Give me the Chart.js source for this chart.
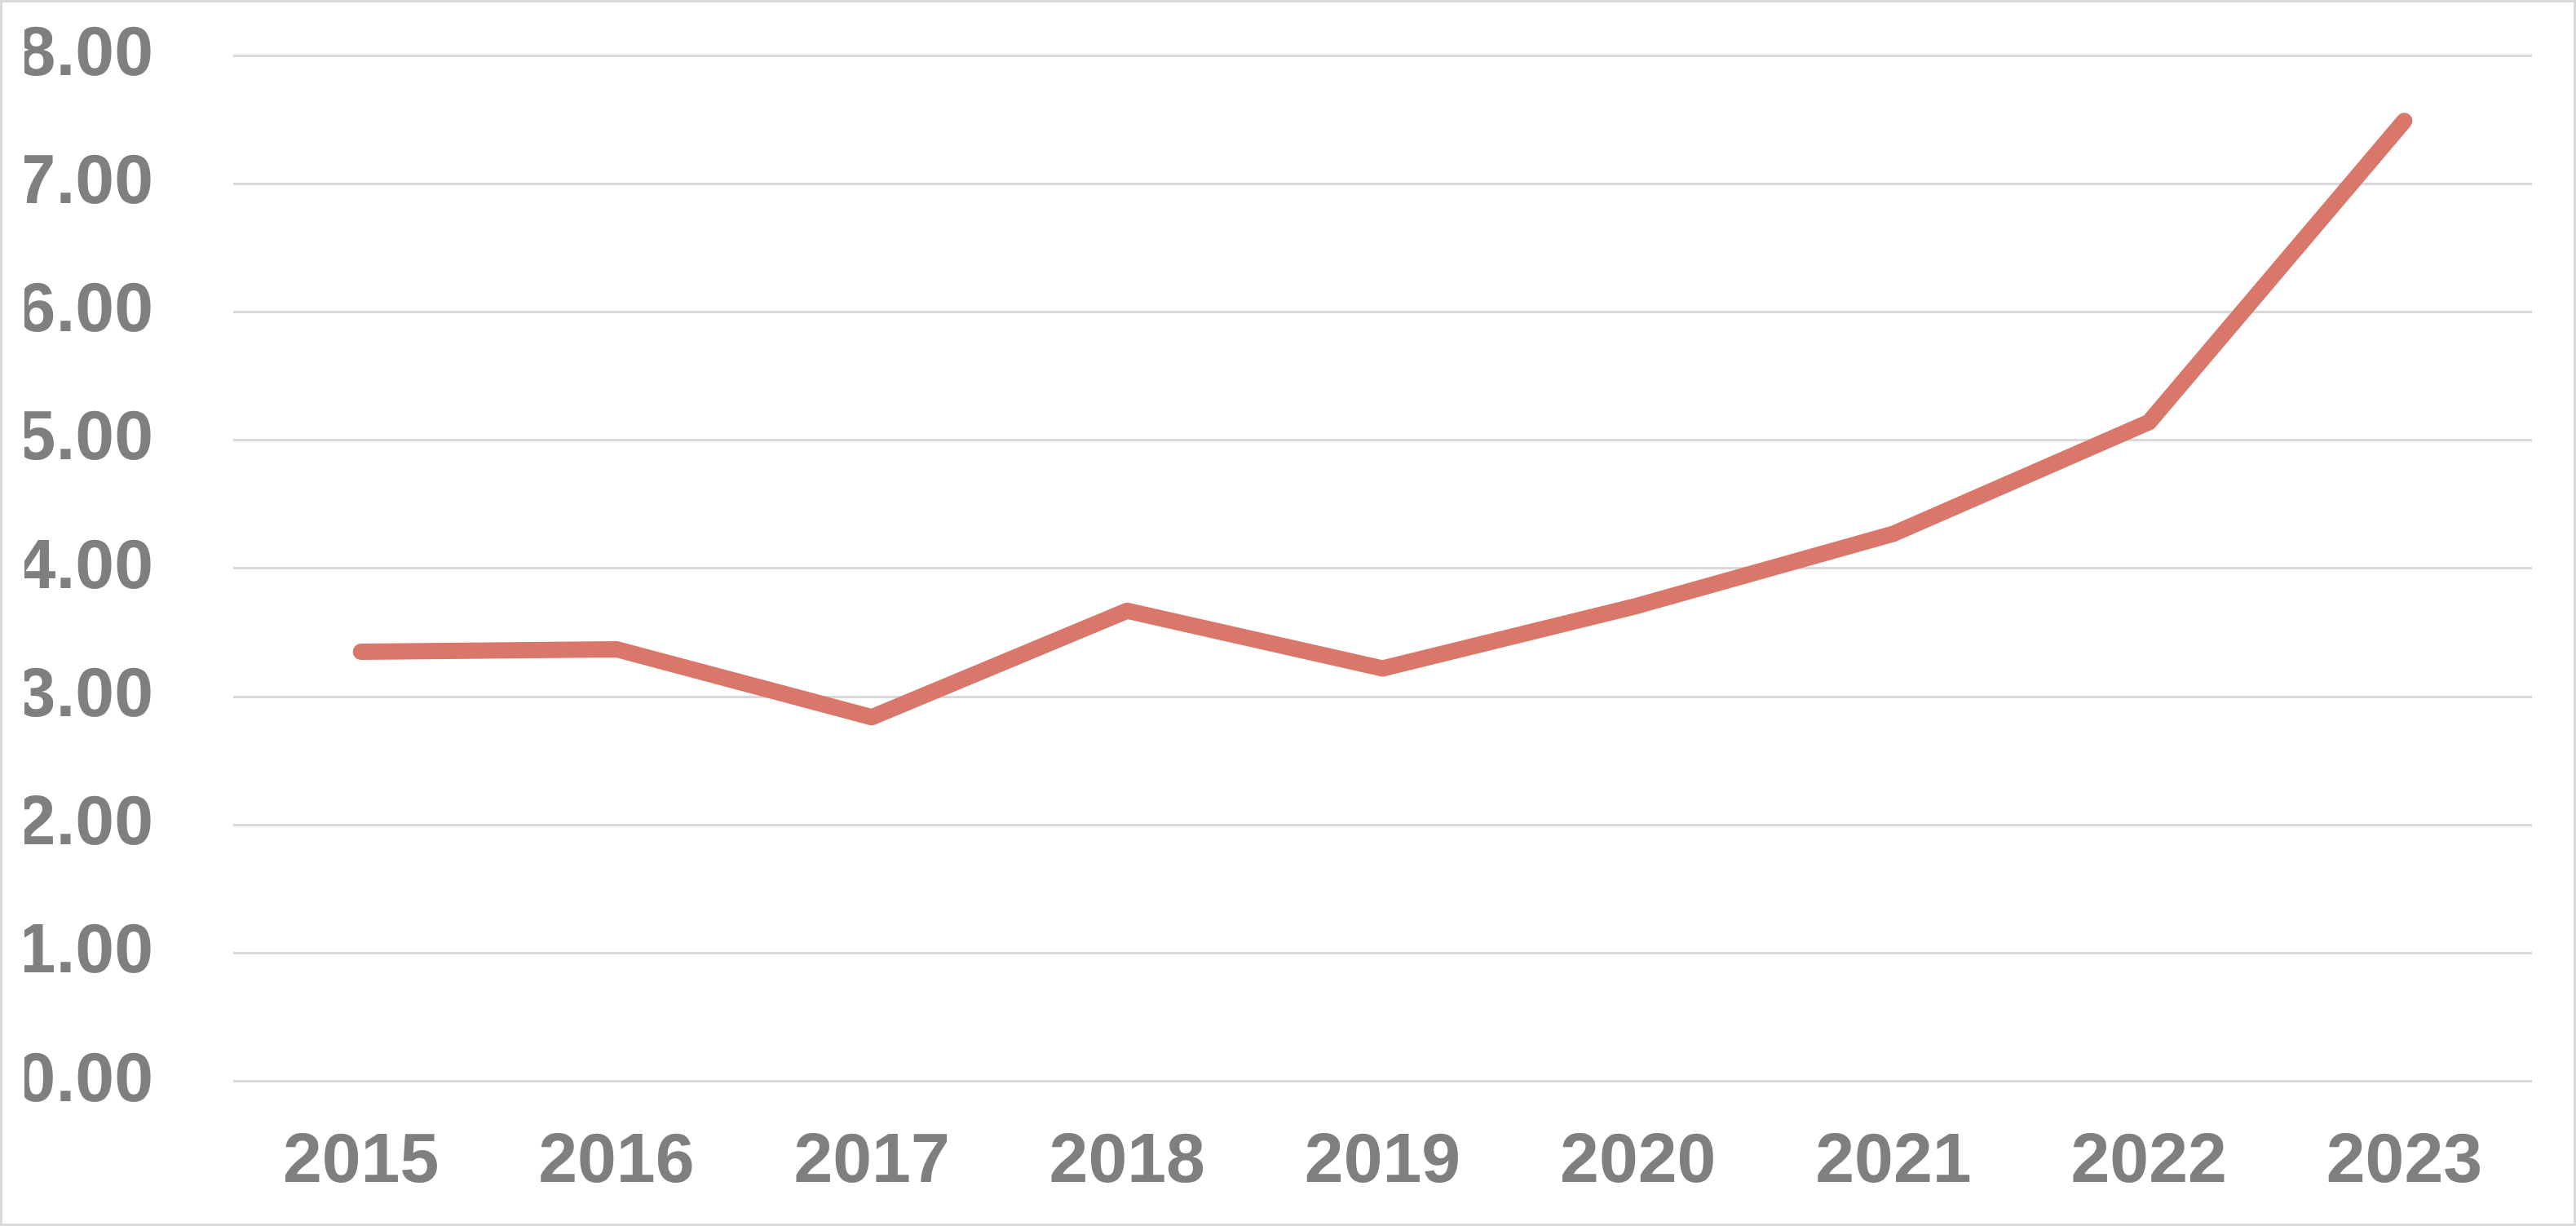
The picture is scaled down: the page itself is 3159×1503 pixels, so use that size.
<!DOCTYPE html>
<html><head><meta charset="utf-8">
<script src="https://cdn.jsdelivr.net/npm/chart.js@4/dist/chart.umd.min.js"></script>
<style>html,body{margin:0;padding:0;background:#fff;overflow:hidden}canvas{display:block}</style>
</head><body>
<canvas id="c" width="3159" height="1503" style="width:3159px;height:1503px"></canvas>
<script>
const categories = ["2015","2016","2017","2018","2019","2020","2021","2022","2023"];
const values = [3.35, 3.37, 2.84, 3.67, 3.22, 3.71, 4.27, 5.14, 7.49];
const yTickLabels = ["0.00","1.00","2.00","3.00","4.00","5.00","6.00","7.00","8.00"];

const frame = {id:'frame', afterDraw(ch){const c=ch.ctx;c.save();c.strokeStyle='#d9d9d9';c.lineWidth=3;c.strokeRect(1.5,1.5,ch.width-3,ch.height-3);c.restore();}};
new Chart(document.getElementById('c'), {
  type:'line',
  data:{labels:categories, datasets:[{data:values, borderColor:'#d9776b', borderWidth:20, pointRadius:0, borderCapStyle:'round', borderJoinStyle:'round', tension:0}]},
  options:{
    responsive:false, animation:false, devicePixelRatio:1,
    layout:{padding:{left:30,top:68,right:54,bottom:40}},
    plugins:{legend:{display:false}, tooltip:{enabled:false}},
    scales:{
      x:{offset:true, grid:{display:false}, border:{display:false},
         afterFit(s){s.height = s.height - 54; s.paddingLeft=0; s.paddingRight=0;},
         ticks:{color:'#7f7f7f', padding:40, font:{family:'Liberation Sans', weight:'bold', size:86}}},
      y:{min:0, max:8, grid:{color:'#d9d9d9', lineWidth:3, drawTicks:false}, border:{display:false},
         afterFit(s){s.width = 256; s.paddingTop=0; s.paddingBottom=0;},
         ticks:{stepSize:1, color:'#7f7f7f', padding:98, font:{family:'Liberation Sans', weight:'bold', size:86},
                callback:(v,i)=>yTickLabels[i]}}
    }
  },
  plugins:[frame]
});
</script></body></html>
